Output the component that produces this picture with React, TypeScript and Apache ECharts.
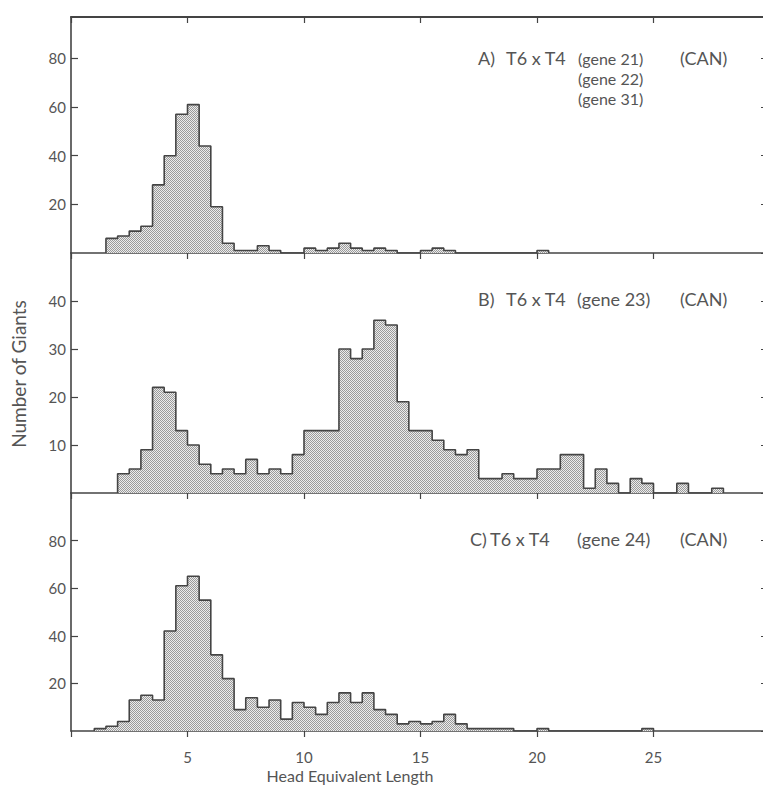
import React, { useEffect, useRef } from "react";
import * as echarts from "echarts";

// ---- data (bin width 0.5 in head-equivalent length) ----
const binWidth = 0.5;
const startA = 1.5;
const countsA = [6, 7, 9, 11, 28, 40, 57, 61, 44, 19, 4, 1, 1, 3, 1, 0, 0, 2, 1, 2, 4, 2, 1, 2, 1, 0, 0, 1, 2, 1, 0, 0, 0, 0, 0, 0, 0, 1];
const startB = 2.0;
const countsB = [4, 5, 9, 22, 21, 13, 10, 6, 4, 5, 4, 7, 4, 5, 4, 8, 13, 13, 13, 30, 28, 30, 36, 35, 19, 13, 13, 11, 9, 8, 9, 3, 3, 4, 3, 3, 5, 5, 8, 8, 1, 5, 2, 0, 3, 2, 0, 0, 2, 0, 0, 1];
const startC = 1.0;
const countsC = [1, 2, 4, 13, 15, 13, 42, 61, 65, 55, 32, 22, 9, 14, 10, 13, 5, 12, 10, 7, 12, 16, 12, 16, 9, 7, 3, 4, 3, 4, 7, 3, 1, 1, 1, 1, 0, 0, 1, 0, 0, 0, 0, 0, 0, 0, 0, 1];

const xTickLabels = [5, 10, 15, 20, 25];
const yTicksA = [20, 40, 60, 80];
const yTicksB = [10, 20, 30, 40];
const yTicksC = [20, 40, 60, 80];
const yMaxA = 97;
const yMaxB = 50;
const yMaxC = 100;
const xMax = 30;

const panelA = ["A)", "T6 x T4", "(gene 21)", "(gene 22)", "(gene 31)", "(CAN)"];
const panelB = ["B)", "T6 x T4", "(gene 23)", "(CAN)"];
const panelC = ["C)", "T6 x T4", "(gene 24)", "(CAN)"];
const yTitle = "Number of Giants";
const xTitle = "Head Equivalent Length";

function stepPoints(start: number, counts: number[]) {
  const pts: number[][] = [[start, 0]];
  counts.forEach((c, i) => {
    const x0 = start + i * binWidth;
    pts.push([x0, c], [x0 + binWidth, c]);
  });
  pts.push([start + counts.length * binWidth, 0]);
  return pts;
}

const FONT = "Lato";
const INK = "#444";
const TXT = "#555";

function makePattern(): any {
  const c = document.createElement("canvas");
  c.width = 2;
  c.height = 2;
  const ctx = c.getContext("2d")!;
  ctx.fillStyle = "#ececec";
  ctx.fillRect(0, 0, 2, 2);
  ctx.fillStyle = "#9a9a9a";
  ctx.fillRect(0, 0, 1, 1);
  ctx.fillRect(1, 1, 1, 1);
  return { image: c, repeat: "repeat", imageWidth: 2, imageHeight: 2 };
}

export default function App() {
  const ref = useRef<HTMLDivElement>(null);
  useEffect(() => {
    if (!ref.current) return;
    const chart = echarts.init(ref.current, undefined, { renderer: "svg" });
    const pattern = makePattern();
    const grids = [
      { left: 71, width: 699, top: 17, height: 236, outerBoundsMode: "none", containLabel: false },
      { left: 71, width: 699, top: 253, height: 240, outerBoundsMode: "none", containLabel: false },
      { left: 71, width: 699, top: 493, height: 238, outerBoundsMode: "none", containLabel: false },
    ];
    const lineStyle = { color: INK, width: 1.6 };
    const xAxes: any[] = [0, 1, 2].map((i) => ({
      type: "value",
      gridIndex: i,
      position: "bottom",
      min: 0,
      max: xMax,
      interval: 5,
      axisLine: { show: true, onZero: false, lineStyle },
      axisTick: { show: true, inside: false, length: 6, lineStyle: { color: INK, width: 1.2 } },
      axisLabel: {
        show: i === 2,
        margin: 18,
        color: TXT,
        fontFamily: FONT,
        fontSize: 15,
        formatter: (v: number) => (xTickLabels.includes(v) ? String(v) : ""),
      },
      splitLine: { show: false },
    }));
    xAxes.push({
      type: "value",
      gridIndex: 0,
      position: "top",
      min: 0,
      max: xMax,
      interval: 5,
      axisLine: { show: true, onZero: false, lineStyle: { color: INK, width: 2 } },
      axisTick: { show: true, inside: true, length: 6, lineStyle: { color: INK, width: 1.2 } },
      axisLabel: { show: false },
      splitLine: { show: false },
    });
    const maxes = [yMaxA, yMaxB, yMaxC];
    const ints = [20, 10, 20];
    const tickSets = [yTicksA, yTicksB, yTicksC];
    const yAxes: any[] = [];
    [0, 1, 2].forEach((i) => {
      yAxes.push({
        type: "value",
        gridIndex: i,
        position: "left",
        min: 0,
        max: maxes[i],
        interval: ints[i],
        axisLine: { show: true, onZero: false, lineStyle },
        axisTick: { show: true, inside: true, length: 7, lineStyle: { color: INK, width: 1.2 } },
        axisLabel: {
          show: true,
          margin: 5,
          color: TXT,
          fontFamily: FONT,
          fontSize: 15,
          showMinLabel: false,
          showMaxLabel: false,
          formatter: (v: number) => (tickSets[i].includes(v) ? String(v) : ""),
        },
        splitLine: { show: false },
      });
    });
    [0, 1, 2].forEach((i) => {
      yAxes.push({
        type: "value",
        gridIndex: i,
        position: "right",
        min: 0,
        max: maxes[i],
        interval: ints[i],
        axisLine: { show: true, onZero: false, lineStyle },
        axisTick: { show: true, inside: true, length: 9, lineStyle: { color: INK, width: 1.2 } },
        axisLabel: { show: false },
        splitLine: { show: false },
      });
    });
    const mk = (i: number, start: number, counts: number[]) => ({
      type: "line",
      xAxisIndex: i,
      yAxisIndex: i,
      data: stepPoints(start, counts),
      symbol: "none",
      lineStyle: { color: INK, width: 1.6 },
      areaStyle: { color: pattern, opacity: 1 },
      z: 1,
    });
    const txt = (text: string, x: number, y: number, size = 18) => ({
      type: "text",
      x,
      y,
      style: {
        text,
        fill: TXT,
        font: `${size}px ${FONT}`,
        textVerticalAlign: "middle",
      },
    });
    const graphic: any[] = [
      txt(panelA[0], 478, 58),
      txt(panelA[1], 506, 58),
      txt(panelA[2], 578, 58, 16),
      txt(panelA[3], 578, 78, 16),
      txt(panelA[4], 578, 98, 16),
      txt(panelA[5], 680, 58),
      txt(panelB[0], 478, 299),
      txt(panelB[1], 506, 299),
      txt(panelB[2], 577, 299),
      txt(panelB[3], 680, 299),
      txt(panelC[0], 470, 539),
      txt(panelC[1], 490, 539),
      txt(panelC[2], 577, 539),
      txt(panelC[3], 680, 539),
      {
        type: "text",
        x: 18,
        y: 374,
        rotation: Math.PI / 2,
        style: {
          text: yTitle,
          fill: TXT,
          font: `19px ${FONT}`,
          textAlign: "center",
          textVerticalAlign: "middle",
        },
      },
      {
        type: "text",
        x: 350,
        y: 775,
        style: {
          text: xTitle,
          fill: TXT,
          font: `16px ${FONT}`,
          textAlign: "center",
          textVerticalAlign: "middle",
        },
      },
    ];
    chart.setOption({
      animation: false,
      backgroundColor: "#ffffff",
      grid: grids,
      xAxis: xAxes,
      yAxis: yAxes,
      series: [mk(0, startA, countsA), mk(1, startB, countsB), mk(2, startC, countsC)],
      graphic,
    });
    return () => chart.dispose();
  }, []);
  return (
    <div
      ref={ref}
      style={{ position: "absolute", left: 0, top: 0, width: 763, height: 787, background: "#fff" }}
    />
  );
}
